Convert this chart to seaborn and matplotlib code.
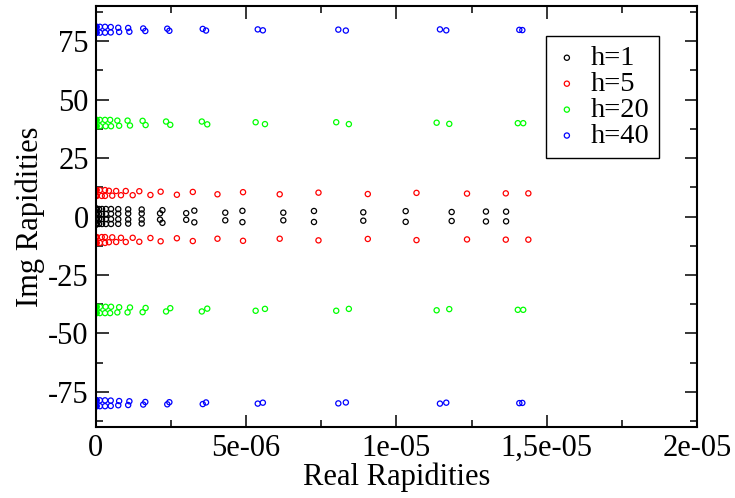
import matplotlib
matplotlib.use("Agg")
import matplotlib.pyplot as plt
from matplotlib.ticker import MultipleLocator, FixedLocator, FixedFormatter
import seaborn as sns
import pandas as pd

# ---------------- data ----------------
series_labels = ["h=1", "h=5", "h=20", "h=40"]
series_colors = ["#000000", "#ff0000", "#00ff00", "#0000ff"]

# h = 1
x_h1_a = [0.001e-6, 0.004e-6, 0.01e-6, 0.027e-6, 0.11e-6, 0.21e-6, 0.34e-6, 0.51e-6, 0.75e-6, 1.08e-6,
          1.53e-6, 2.22e-6, 3.28e-6, 4.88e-6, 7.26e-6, 10.31e-6, 12.98e-6]
y_h1_a = [3.4, 3.4, 3.4, 3.3, 3.2, 3.2, 3.2, 3.2, 3.15, 3.05, 3.0, 2.7, 2.5, 2.42, 2.35, 2.29, 2.12]
x_h1_b = [0.001e-6, 0.004e-6, 0.01e-6, 0.027e-6, 0.11e-6, 0.21e-6, 0.34e-6, 0.51e-6, 0.75e-6, 1.08e-6,
          1.53e-6, 2.14e-6, 3.01e-6, 4.31e-6, 6.24e-6, 8.90e-6, 11.84e-6, 13.65e-6]
y_h1_b = [1.05, 1.05, 1.05, 1.07, 1.07, 1.1, 1.12, 1.15, 1.2, 1.28, 1.28, 1.35, 1.42, 1.63, 1.63, 1.79, 1.92, 2.07]

# h = 5
x_h5_a = [0.001e-6, 0.004e-6, 0.01e-6, 0.033e-6, 0.14e-6, 0.31e-6, 0.44e-6, 0.68e-6, 1.0e-6, 1.45e-6,
          2.16e-6, 3.23e-6, 4.90e-6, 7.41e-6, 10.67e-6, 13.64e-6]
y_h5_a = [11.3, 11.3, 11.3, 11.3, 11.3, 11.3, 11.0, 10.9, 10.9, 10.8, 10.6, 10.5, 10.4, 10.2, 10.1, 9.9]
x_h5_b = [0.001e-6, 0.004e-6, 0.01e-6, 0.033e-6, 0.20e-6, 0.31e-6, 0.55e-6, 0.84e-6, 1.23e-6, 1.82e-6,
          2.70e-6, 4.05e-6, 6.12e-6, 9.05e-6, 12.35e-6, 14.39e-6]
y_h5_b = [8.8, 8.8, 8.8, 8.8, 8.8, 8.8, 8.9, 9.1, 9.1, 9.2, 9.3, 9.5, 9.5, 9.6, 9.8, 9.9]

# h = 20
x_h20_a = [0.001e-6, 0.004e-6, 0.01e-6, 0.033e-6, 0.14e-6, 0.31e-6, 0.48e-6, 0.72e-6, 1.06e-6, 1.56e-6,
           2.34e-6, 3.53e-6, 5.32e-6, 8.00e-6, 11.34e-6, 14.04e-6]
y_h20_a = [41.3, 41.3, 41.3, 41.3, 41.3, 41.3, 41.3, 41.0, 41.0, 40.9, 40.6, 40.6, 40.3, 40.3, 40.1, 39.9]
x_h20_b = [0.001e-6, 0.004e-6, 0.01e-6, 0.033e-6, 0.14e-6, 0.33e-6, 0.51e-6, 0.78e-6, 1.14e-6, 1.66e-6,
           2.48e-6, 3.71e-6, 5.63e-6, 8.42e-6, 11.76e-6, 14.22e-6]
y_h20_b = [38.6, 38.6, 38.6, 38.6, 38.6, 38.6, 38.6, 38.8, 38.9, 39.1, 39.2, 39.4, 39.5, 39.5, 39.6, 39.9]

# h = 40
x_h40_a = [0.001e-6, 0.004e-6, 0.01e-6, 0.033e-6, 0.14e-6, 0.31e-6, 0.50e-6, 0.75e-6, 1.08e-6, 1.58e-6,
           2.38e-6, 3.56e-6, 5.39e-6, 8.07e-6, 11.45e-6, 14.09e-6]
y_h40_a = [81.1, 81.1, 81.1, 81.1, 81.1, 81.1, 81.0, 80.7, 80.6, 80.4, 80.3, 80.2, 80.0, 79.9, 80.0, 79.8]
x_h40_b = [0.001e-6, 0.004e-6, 0.01e-6, 0.033e-6, 0.14e-6, 0.31e-6, 0.50e-6, 0.78e-6, 1.12e-6, 1.65e-6,
           2.45e-6, 3.67e-6, 5.56e-6, 8.32e-6, 11.66e-6, 14.19e-6]
y_h40_b = [78.6, 78.6, 78.6, 78.6, 78.6, 78.6, 78.7, 78.9, 79.0, 79.3, 79.4, 79.5, 79.6, 79.5, 79.6, 79.7]

x_ticks = [0, 5e-6, 1e-5, 1.5e-5, 2e-5]
x_tick_labels = ["0", "5e-06", "1e-05", "1,5e-05", "2e-05"]
y_ticks = [-75, -50, -25, 0, 25, 50, 75]
y_tick_labels = ["-75", "-50", "-25", "0", "25", "50", "75"]

# ---------------- build table ----------------
groups = [
    ("h=1", x_h1_a, y_h1_a, x_h1_b, y_h1_b),
    ("h=5", x_h5_a, y_h5_a, x_h5_b, y_h5_b),
    ("h=20", x_h20_a, y_h20_a, x_h20_b, y_h20_b),
    ("h=40", x_h40_a, y_h40_a, x_h40_b, y_h40_b),
]
rows = []
for lab, xa, ya, xb, yb in groups:
    for xs, ys in ((xa, ya), (xb, yb)):
        for xv, yv in zip(xs, ys):
            rows.append({"series": lab, "x": xv, "y": yv})
            rows.append({"series": lab, "x": xv, "y": -yv})
df = pd.DataFrame(rows)

# ---------------- plot ----------------
sns.set_theme(style="white")
plt.rcParams["font.family"] = ["Liberation Serif", "DejaVu Serif"]
plt.rcParams["text.color"] = "black"
plt.rcParams["axes.labelcolor"] = "black"

fig = plt.figure(figsize=(7.35, 4.98), dpi=100)
ax = fig.add_axes([95.7 / 735, 1 - 427 / 498, (697 - 95.7) / 735, (427 - 6) / 498])

for lab, col in zip(series_labels, series_colors):
    sub = df[df["series"] == lab]
    sns.scatterplot(data=sub, x="x", y="y", ax=ax, marker="o", s=14,
                    facecolor="none", edgecolor=col, linewidth=0.9, label=lab)

ax.set_xlim(0, 2e-5)
ax.set_ylim(-90, 90)
ax.xaxis.set_major_locator(FixedLocator(x_ticks))
ax.xaxis.set_major_formatter(FixedFormatter(x_tick_labels))
ax.xaxis.set_minor_locator(MultipleLocator(2.5e-6))
ax.yaxis.set_major_locator(FixedLocator(y_ticks))
ax.yaxis.set_major_formatter(FixedFormatter(y_tick_labels))
ax.yaxis.set_minor_locator(MultipleLocator(12.5))

for sp in ax.spines.values():
    sp.set_visible(True)
    sp.set_color("black")
    sp.set_linewidth(1.5)

ax.tick_params(which="both", direction="in", top=True, right=True, bottom=True, left=True,
               colors="black", labelcolor="black", width=1.1)
ax.tick_params(which="major", length=9, labelsize=22, pad=5)
ax.tick_params(which="minor", length=5)

ax.set_xlabel("Real Rapidities", fontsize=22, labelpad=0, color="black")
ax.set_ylabel("Img Rapidities", fontsize=22, labelpad=2, color="black")

leg = ax.legend(loc="upper left", bbox_to_anchor=(0.749, 0.929), fontsize=20.5,
                frameon=True, fancybox=False, framealpha=1, edgecolor="black",
                borderpad=0.33, labelspacing=0.0, handletextpad=0.45,
                handlelength=0.8, borderaxespad=0, markerscale=1.0)
leg.get_frame().set_linewidth(1.0)
for t in leg.get_texts():
    t.set_color("black")

fig.savefig("out.png", dpi=100)
